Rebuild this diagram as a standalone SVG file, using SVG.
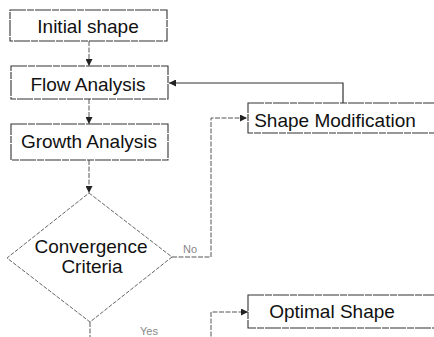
<svg xmlns="http://www.w3.org/2000/svg" width="434" height="337" viewBox="0 0 434 337">
<style>
.box{fill:#fff;stroke:#333;stroke-width:1.1;stroke-dasharray:16 1 7 1}
.dia{fill:#fff;stroke:#666;stroke-width:1;stroke-dasharray:4 1.5}
.lbl{font-family:"Liberation Sans",Arial,sans-serif;font-size:19px;fill:#111;text-anchor:middle}
.small{font-family:"Liberation Sans",Arial,sans-serif;font-size:11px;fill:#888}
.conn{fill:none;stroke:#555;stroke-width:1;stroke-dasharray:5 1.5}
.solid{fill:none;stroke:#333;stroke-width:1.2}
</style>
<defs>
<marker id="arr" viewBox="0 0 10 10" refX="10" refY="5" markerWidth="7" markerHeight="7" markerUnits="userSpaceOnUse" orient="auto">
<path d="M0,0 L10,5 L0,10 z" fill="#222"/>
</marker>
</defs>
<rect width="434" height="337" fill="#fff"/>
<g id="connectors">
<path class="conn" d="M89,41 V66" marker-end="url(#arr)"/>
<path class="conn" d="M89,99 V124" marker-end="url(#arr)"/>
<path class="conn" d="M89,160 V193" marker-end="url(#arr)"/>
<path class="conn" d="M172,257 H211 V118 H247" marker-end="url(#arr)"/>
<path class="solid" d="M343,103 V83 H169" marker-end="url(#arr)"/>
<path class="conn" d="M90,322 V350 H211 V312 H248" marker-end="url(#arr)"/>
<text class="small" x="183" y="253">No</text>
<text class="small" x="140" y="335">Yes</text>
</g>
<g id="initial">
<rect class="box" x="10" y="10" width="157" height="31"/>
<text class="lbl" x="88" y="33">Initial shape</text>
</g>
<g id="flow">
<rect class="box" x="11" y="66" width="157" height="33"/>
<text class="lbl" x="88" y="91">Flow Analysis</text>
</g>
<g id="growth">
<rect class="box" x="11" y="124" width="157" height="36"/>
<text class="lbl" x="89" y="148">Growth Analysis</text>
</g>
<g id="convergence">
<polygon class="dia" points="89,193 172,257 90,322 7,258"/>
<text class="lbl" x="91" y="253">Convergence</text>
<text class="lbl" x="92" y="273">Criteria</text>
</g>
<g id="modification">
<rect class="box" x="248" y="103" width="200" height="30"/>
<text class="lbl" x="335" y="127">Shape Modification</text>
</g>
<g id="optimal">
<rect class="box" x="248" y="295" width="200" height="33"/>
<text class="lbl" x="332" y="318">Optimal Shape</text>
</g>
</svg>
